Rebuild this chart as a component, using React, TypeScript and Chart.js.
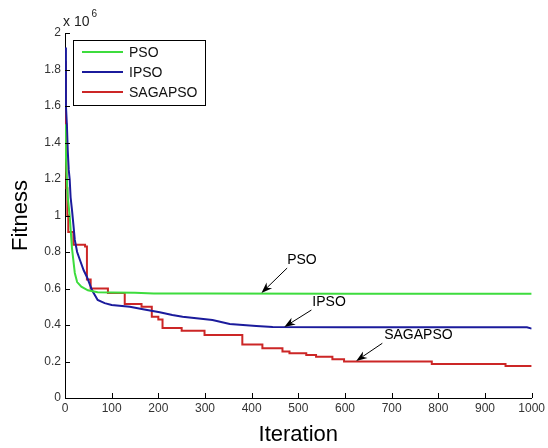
import { useEffect, useRef } from "react";
import { Chart, registerables } from "chart.js";

Chart.register(...registerables);

const FONT = "'Liberation Sans', Arial, Helvetica, sans-serif";

// Series (fitness in units of 10^6)
const seriesNames = ["PSO", "IPSO", "SAGAPSO"];
const seriesColors = ["#3ddc3d", "#1b1b9c", "#cc2626"];

const psoIter = [0, 3, 6, 10, 15, 21, 26, 35, 49, 70, 100, 150, 190, 300, 600, 1000];
const psoFit = [1.5, 1.25, 1.1, 1.0, 0.82, 0.685, 0.635, 0.61, 0.59, 0.58, 0.578, 0.577, 0.572, 0.572, 0.571, 0.571];

const ipsoIter = [0, 2, 4, 6, 8, 10, 12, 15, 18, 21, 26, 32, 40, 47, 58, 70, 85, 100, 139, 170, 203, 230, 252, 316, 353, 410, 445, 600, 990, 1000];
const ipsoFit = [1.92, 1.6, 1.5, 1.35, 1.25, 1.2, 1.1, 1.03, 0.95, 0.866, 0.8, 0.756, 0.7, 0.663, 0.59, 0.537, 0.52, 0.51, 0.5, 0.485, 0.47, 0.455, 0.445, 0.427, 0.405, 0.395, 0.389, 0.387, 0.387, 0.38];

const sagaIter = [0, 2, 3, 5, 7, 18, 43, 47, 55, 92, 128, 164, 186, 200, 209, 250, 299, 380, 423, 466, 481, 517, 538, 573, 598, 786, 944, 1000];
const sagaFit = [1.84, 1.5, 1.15, 1.0, 0.91, 0.84, 0.83, 0.65, 0.6, 0.575, 0.515, 0.5, 0.445, 0.43, 0.383, 0.368, 0.345, 0.293, 0.272, 0.255, 0.245, 0.236, 0.226, 0.212, 0.2, 0.186, 0.176, 0.176];

const xTicks = [0, 100, 200, 300, 400, 500, 600, 700, 800, 900, 1000];
const yTicks = [0, 0.2, 0.4, 0.6, 0.8, 1, 1.2, 1.4, 1.6, 1.8, 2];

// Annotation labels with arrows (data coordinates)
const annLabels = ["PSO", "IPSO", "SAGAPSO"];
const annTextX = [476, 530, 684];
const annTextY = [0.756, 0.526, 0.345];
const annTailX = [476, 528, 680];
const annTailY = [0.712, 0.482, 0.3];
const annHeadX = [421, 470, 624];
const annHeadY = [0.575, 0.389, 0.203];

const decorPlugin = {
  id: "decor",
  afterDraw(chart: any) {
    const ctx = chart.ctx as CanvasRenderingContext2D;
    const xs = chart.scales.x;
    const ys = chart.scales.y;
    const { left, top, bottom } = chart.chartArea;
    ctx.save();

    // inward tick marks
    ctx.strokeStyle = "#000";
    ctx.lineWidth = 1;
    ctx.beginPath();
    xTicks.forEach((v) => {
      const px = Math.round(xs.getPixelForValue(v)) + 0.5;
      ctx.moveTo(px, bottom);
      ctx.lineTo(px, bottom - 5);
    });
    yTicks.forEach((v) => {
      const py = Math.round(ys.getPixelForValue(v)) + 0.5;
      ctx.moveTo(left, py);
      ctx.lineTo(left + 5, py);
    });
    ctx.stroke();

    // exponent label
    ctx.fillStyle = "#222";
    ctx.textAlign = "left";
    ctx.textBaseline = "alphabetic";
    ctx.font = `14px ${FONT}`;
    ctx.fillText("x 10", left - 2, top - 7);
    const w = ctx.measureText("x 10").width;
    ctx.font = `10px ${FONT}`;
    ctx.fillText("6", left - 2 + w + 2, top - 16);

    // annotations
    ctx.fillStyle = "#000";
    ctx.strokeStyle = "#000";
    ctx.font = `14px ${FONT}`;
    ctx.textBaseline = "middle";
    annLabels.forEach((lab, i) => {
      ctx.fillText(lab, xs.getPixelForValue(annTextX[i]), ys.getPixelForValue(annTextY[i]));
      const tx = xs.getPixelForValue(annTailX[i]);
      const ty = ys.getPixelForValue(annTailY[i]);
      const hx = xs.getPixelForValue(annHeadX[i]);
      const hy = ys.getPixelForValue(annHeadY[i]);
      const ang = Math.atan2(hy - ty, hx - tx);
      const L = 11;
      const W = 4;
      ctx.beginPath();
      ctx.moveTo(tx, ty);
      ctx.lineTo(hx - Math.cos(ang) * L * 0.7, hy - Math.sin(ang) * L * 0.7);
      ctx.lineWidth = 1;
      ctx.stroke();
      const bx = hx - Math.cos(ang) * L;
      const by = hy - Math.sin(ang) * L;
      ctx.beginPath();
      ctx.moveTo(hx, hy);
      ctx.lineTo(bx + Math.sin(ang) * W, by - Math.cos(ang) * W);
      ctx.lineTo(hx - Math.cos(ang) * L * 0.7, hy - Math.sin(ang) * L * 0.7);
      ctx.lineTo(bx - Math.sin(ang) * W, by + Math.cos(ang) * W);
      ctx.closePath();
      ctx.fill();
    });

    // legend
    const lx = left + 8;
    const ly = top + 7;
    const lw = 132;
    const lh = 65;
    ctx.fillStyle = "#fff";
    ctx.fillRect(lx, ly, lw, lh);
    ctx.strokeStyle = "#000";
    ctx.lineWidth = 1;
    ctx.strokeRect(Math.round(lx) + 0.5, Math.round(ly) + 0.5, lw, lh);
    ctx.font = `14px ${FONT}`;
    ctx.textBaseline = "middle";
    chart.data.datasets.forEach((ds: any, i: number) => {
      const yy = ly + 12 + i * 20;
      ctx.strokeStyle = ds.borderColor;
      ctx.lineWidth = 2;
      ctx.beginPath();
      ctx.moveTo(lx + 9, yy);
      ctx.lineTo(lx + 50, yy);
      ctx.stroke();
      ctx.fillStyle = "#111";
      ctx.fillText(ds.label, lx + 56, yy + 1);
    });

    ctx.restore();
  },
};

export default function App() {
  const ref = useRef<HTMLCanvasElement | null>(null);

  useEffect(() => {
    if (!ref.current) return;
    const toPts = (xs: number[], ys: number[]) => xs.map((x, i) => ({ x, y: ys[i] }));
    const iters = [psoIter, ipsoIter, sagaIter];
    const fits = [psoFit, ipsoFit, sagaFit];
    const chart = new Chart(ref.current, {
      type: "line",
      data: {
        datasets: seriesNames.map((name, i) => ({
          label: name,
          data: toPts(iters[i], fits[i]),
          borderColor: seriesColors[i],
          backgroundColor: seriesColors[i],
          borderWidth: 2,
          pointRadius: 0,
          tension: 0,
          fill: false,
          stepped: i === 2 ? true : false,
        })),
      },
      options: {
        animation: false,
        responsive: false,
        devicePixelRatio: 1,
        layout: { padding: { top: 33, right: 15, left: 0, bottom: 0 } },
        plugins: { legend: { display: false }, tooltip: { enabled: false } },
        scales: {
          x: {
            type: "linear",
            min: 0,
            max: 1000,
            afterFit: (s: any) => {
              s.height = 50;
            },
            afterBuildTicks: (s: any) => {
              s.ticks = xTicks.map((v) => ({ value: v }));
            },
            ticks: {
              autoSkip: false,
              maxRotation: 0,
              padding: 3,
              color: "#333",
              font: { family: FONT, size: 12 },
              callback: (v: any) => String(v),
            },
            grid: { display: false, drawTicks: false },
            border: { display: true, color: "#000", width: 1 },
            title: {
              display: true,
              text: "Iteration",
              color: "#000",
              font: { family: FONT, size: 22 },
              padding: { top: 0, bottom: 0 },
            },
          },
          y: {
            type: "linear",
            min: 0,
            max: 2,
            afterFit: (s: any) => {
              s.width = 65;
            },
            afterBuildTicks: (s: any) => {
              s.ticks = yTicks.map((v) => ({ value: v }));
            },
            ticks: {
              autoSkip: false,
              padding: 4,
              color: "#333",
              font: { family: FONT, size: 12 },
              callback: (v: any) => String(Number(Number(v).toFixed(1))),
            },
            grid: { display: false, drawTicks: false },
            border: { display: true, color: "#000", width: 1 },
            title: {
              display: true,
              text: "Fitness",
              color: "#000",
              font: { family: FONT, size: 22 },
              padding: { top: 8, bottom: 0 },
            },
          },
        },
      },
      plugins: [decorPlugin],
    });
    return () => chart.destroy();
  }, []);

  return (
    <div style={{ position: "fixed", left: 0, top: 0, width: 548, height: 448, background: "#fff" }}>
      <canvas ref={ref} width={548} height={448} style={{ display: "block" }} />
    </div>
  );
}
